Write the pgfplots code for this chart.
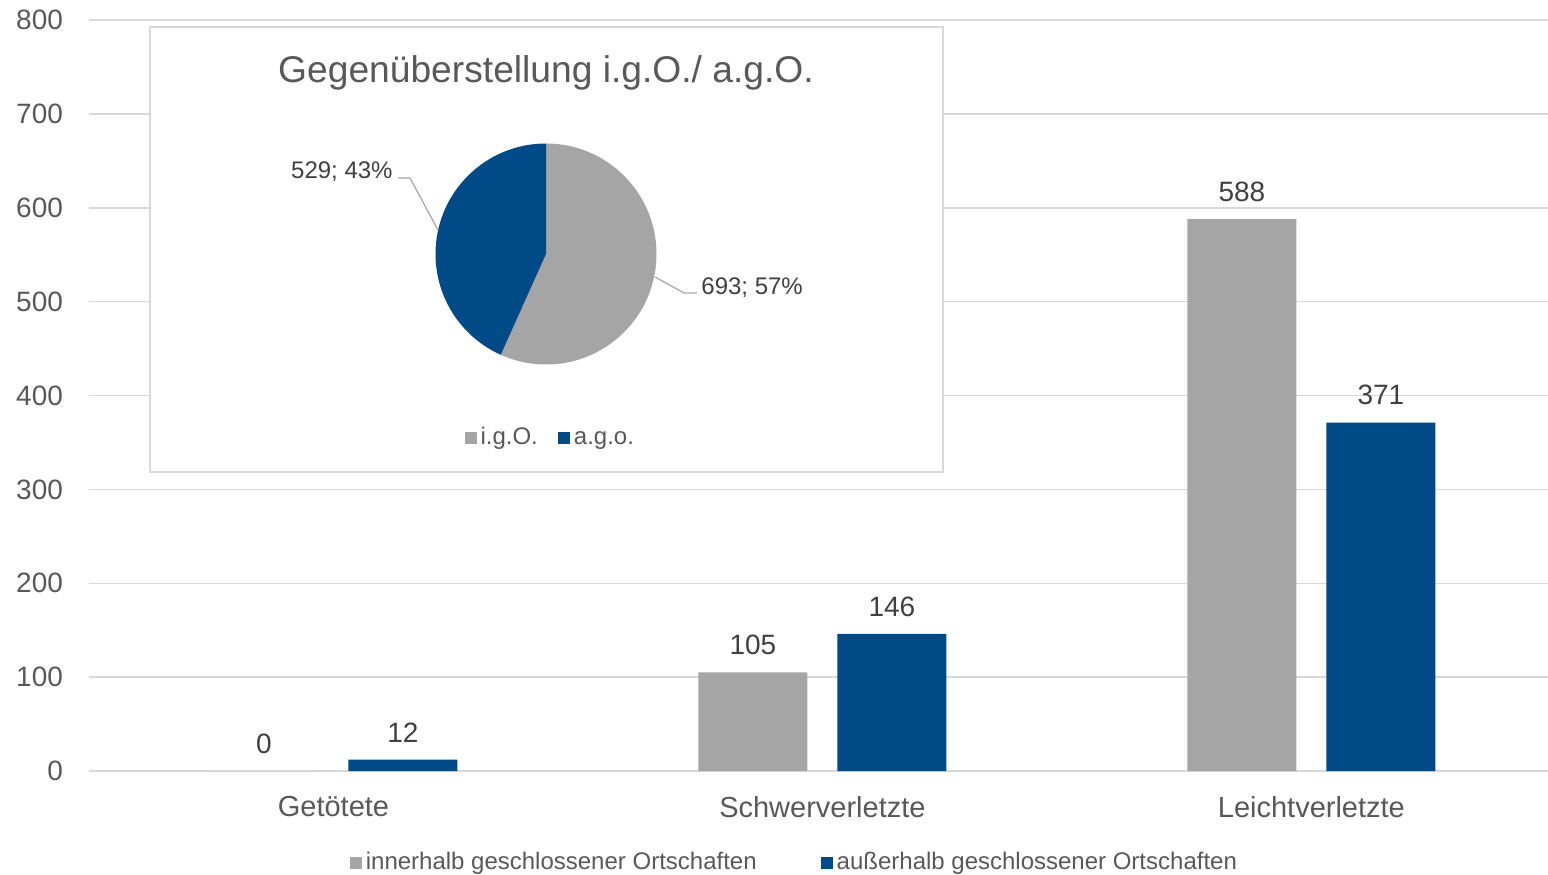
\documentclass[border=0pt]{standalone}
\usepackage{pgfplots}
\pgfplotsset{compat=1.18}
\usepackage{fontspec}
\setmainfont{Liberation Sans}
\definecolor{bargray}{HTML}{A5A5A5}
\definecolor{barblue}{HTML}{004A87}
\definecolor{txtgray}{HTML}{595959}
\definecolor{lblgray}{HTML}{404040}
\definecolor{gridgray}{HTML}{D9D9D9}
\definecolor{leadgray}{HTML}{A6A6A6}
\pgfplotsset{sqlegend/.style={legend image code/.code={\fill[##1,draw=none] (0pt,-2.2pt) rectangle (6pt,3.8pt);}}}
\begin{document}
\begin{tikzpicture}
\useasboundingbox (-44.5pt,-51.5pt) rectangle (729.5pt,385.5pt);
\begin{axis}[
  at={(0pt,0pt)}, anchor=south west,
  scale only axis, width=729.75pt, height=375.5pt,
  xmin=-0.5, xmax=2.485, ymin=0, ymax=800, enlargelimits=false,
  ytick={0,100,...,800},
  xtick={0,1,2}, xticklabels={Getötete,Schwerverletzte,Leichtverletzte},
  ybar, bar width=54.5pt, sqlegend,
  axis line style={draw=none},
  ymajorgrids, grid style={gridgray, line width=0.75pt},
  major tick length=0pt,
  tick label style={font=\fontsize{14}{16}\selectfont, text=txtgray},
  xticklabel style={font=\fontsize{14.5}{16}\selectfont, yshift=-9pt},
  /pgf/number format/assume math mode=true,
  yticklabel style={anchor=east, xshift=-9.5pt},
  nodes near coords,
  every node near coord/.append style={font=\fontsize{14}{16}\selectfont, text=lblgray, yshift=5.3pt},
  legend style={at={(0.484,-0.125)}, anchor=center, draw=none, fill=none,
    legend columns=2, font=\fontsize{12}{14}\selectfont, text=txtgray,
    nodes={text height=0.72em, text depth=0.21em},
    /tikz/every even column/.append style={column sep=30pt},
    inner sep=0pt},
  legend cell align=left,
]
\addplot[fill=bargray, draw=none, bar shift=-34.75pt, sqlegend] coordinates {(0,0) (1,105) (2,588)};
\addlegendentry{innerhalb geschlossener Ortschaften}
\addplot[fill=barblue, draw=none, bar shift=34.75pt, sqlegend] coordinates {(0,12) (1,146) (2,371)};
\addlegendentry{außerhalb geschlossener Ortschaften}
\end{axis}
\begin{axis}[
  at={(30.5pt,149.5pt)}, anchor=south west,
  scale only axis, width=396.5pt, height=222.5pt,
  xmin=0, xmax=396.5, ymin=0, ymax=222.5, enlargelimits=false,
  axis background/.style={fill=white},
  axis line style={draw=gridgray, line width=0.75pt},
  xtick=\empty, ytick=\empty, clip=false, sqlegend,
  legend style={at={(0.506,0.073)}, anchor=center, draw=none, fill=none,
    legend columns=2, font=\fontsize{12}{14}\selectfont, text=txtgray,
    nodes={text height=0.72em, text depth=0.21em},
    /tikz/every even column/.append style={column sep=8pt},
    inner sep=0pt},
]
\pgfmathsetmacro\ang{360*(693/(693+529))}
\fill[bargray] (axis cs:198,109) -- ++(90:55.25pt) arc[start angle=90, delta angle=-\ang, radius=55.25pt] -- cycle;
\fill[barblue] (axis cs:198,109) -- ++(90:55.25pt) arc[start angle=90, delta angle=360-\ang, radius=55.25pt] -- cycle;
\draw[leadgray, line width=0.6pt] (axis cs:252.5,97.5) -- (axis cs:267,89.5) -- (axis cs:273.5,89.5);
\draw[leadgray, line width=0.6pt] (axis cs:124,147) -- (axis cs:130,147) -- (axis cs:144,121);
\node[anchor=west, text=lblgray, font=\fontsize{12}{14}\selectfont, inner sep=0pt] at (axis cs:275.5,92) {693; 57\%};
\node[anchor=east, text=lblgray, font=\fontsize{12}{14}\selectfont, inner sep=0pt] at (axis cs:121.5,150) {529; 43\%};
\node[text=txtgray, font=\fontsize{18.6}{22}\selectfont] at (axis cs:198,199.5) {Gegenüberstellung i.g.O./ a.g.O.};
\addlegendimage{fill=bargray}
\addlegendentry{i.g.O.}
\addlegendimage{fill=barblue}
\addlegendentry{a.g.o.}
\end{axis}
\end{tikzpicture}
\end{document}
